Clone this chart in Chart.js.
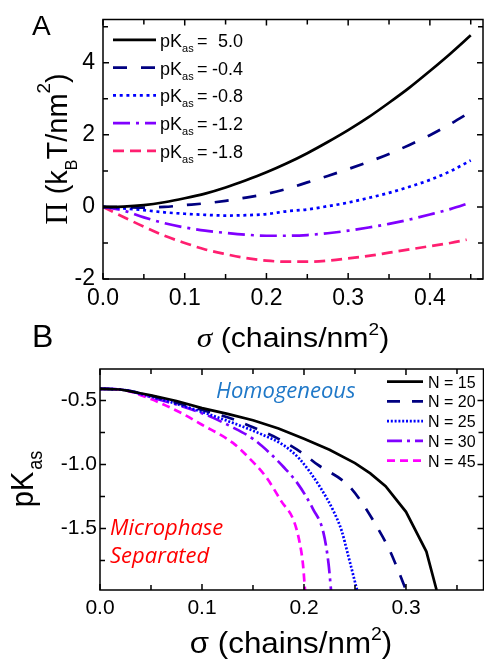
<!DOCTYPE html>
<html>
<head>
<meta charset="utf-8">
<script src="https://cdn.jsdelivr.net/npm/chart.js@4.4.1/dist/chart.umd.min.js"></script>
<style>
html,body{margin:0;padding:0;background:#fff;}
body{width:484px;height:660px;position:relative;overflow:hidden;}
.w{position:absolute;left:0;width:484px;}
#wa{top:0;height:360px;}
#wb{top:300px;height:360px;}
</style>
</head>
<body>
<div class="w" id="wa"><canvas id="ca"></canvas></div>
<div class="w" id="wb"><canvas id="cb"></canvas></div>
<script>
// ================= Panel A : Pi vs sigma =================
const sigmaA   = [0, 0.025, 0.05, 0.075, 0.1, 0.125, 0.15, 0.175, 0.2, 0.225, 0.25, 0.275, 0.3, 0.325, 0.35, 0.375, 0.4, 0.425, 0.45];
const sigmaA18 = [0, 0.025, 0.05, 0.075, 0.1, 0.125, 0.15, 0.175, 0.2, 0.225, 0.25, 0.275, 0.3, 0.325, 0.35, 0.375, 0.4, 0.425, 0.445];
const pKasA    = [5.0, -0.4, -0.8, -1.2, -1.8];
const piA_p50  = [0, 0.01, 0.05, 0.13, 0.24, 0.37, 0.54, 0.74, 0.96, 1.21, 1.49, 1.80, 2.13, 2.49, 2.89, 3.31, 3.77, 4.25, 4.76];
const piA_m04  = [0, -0.01, -0.02, 0.0, 0.05, 0.10, 0.17, 0.26, 0.36, 0.50, 0.68, 0.86, 1.05, 1.25, 1.47, 1.72, 1.99, 2.30, 2.64];
const piA_m08  = [0, -0.04, -0.09, -0.15, -0.19, -0.22, -0.24, -0.23, -0.20, -0.12, -0.07, 0.02, 0.12, 0.25, 0.39, 0.56, 0.75, 0.99, 1.29];
const piA_m12  = [0, -0.10, -0.29, -0.45, -0.57, -0.66, -0.72, -0.77, -0.80, -0.80, -0.78, -0.73, -0.66, -0.57, -0.47, -0.35, -0.21, -0.06, 0.12];
const piA_m18  = [0, -0.28, -0.55, -0.80, -1.00, -1.18, -1.31, -1.42, -1.49, -1.52, -1.52, -1.49, -1.43, -1.36, -1.27, -1.18, -1.09, -1.00, -0.91];
const xTicksA  = [0, 0.1, 0.2, 0.3, 0.4];
const xMinorA  = [0.05, 0.15, 0.25, 0.35, 0.45];
const yTicksA  = [-2, 0, 2, 4];
const yMinorA  = [-1, 1, 3, 5];

// ================= Panel B : pKas vs sigma (phase boundary) =================
const NB        = [15, 20, 25, 30, 45];
const sigmaB15  = [0, 0.02, 0.05, 0.075, 0.1, 0.125, 0.15, 0.175, 0.2, 0.225, 0.25, 0.265, 0.28, 0.30, 0.32, 0.33];
const pKB15     = [-0.41, -0.415, -0.46, -0.505, -0.56, -0.605, -0.655, -0.72, -0.80, -0.885, -0.99, -1.07, -1.17, -1.37, -1.68, -1.98];
const sigmaB20  = [0, 0.02, 0.05, 0.1, 0.13, 0.15, 0.175, 0.2, 0.213, 0.243, 0.257, 0.271, 0.284, 0.293, 0.300];
const pKB20     = [-0.41, -0.415, -0.465, -0.575, -0.645, -0.71, -0.80, -0.92, -1.00, -1.16, -1.30, -1.48, -1.67, -1.84, -1.98];
const sigmaB25  = [0, 0.02, 0.05, 0.1, 0.13, 0.16, 0.18, 0.196, 0.216, 0.229, 0.237, 0.243, 0.252];
const pKB25     = [-0.41, -0.415, -0.47, -0.59, -0.675, -0.77, -0.85, -0.96, -1.18, -1.365, -1.52, -1.70, -1.98];
const sigmaB30  = [0, 0.02, 0.05, 0.1, 0.13, 0.15, 0.165, 0.18, 0.193, 0.209, 0.219, 0.224, 0.2265];
const pKB30     = [-0.41, -0.415, -0.475, -0.60, -0.71, -0.80, -0.90, -1.02, -1.14, -1.35, -1.53, -1.77, -1.98];
const sigmaB45  = [0, 0.02, 0.05, 0.08, 0.1, 0.13, 0.145, 0.163, 0.178, 0.19, 0.196, 0.199, 0.201];
const pKB45     = [-0.41, -0.415, -0.49, -0.60, -0.69, -0.83, -0.94, -1.10, -1.29, -1.44, -1.62, -1.78, -1.98];
const xTicksB   = [0, 0.1, 0.2, 0.3];
const xMinorB   = [0.05, 0.15, 0.25, 0.35];
const yTicksB   = [-1.5, -1.0, -0.5];
const yMinorB   = [-1.75, -1.25, -0.75];

// ================= helpers =================
const SANS = '"Liberation Sans", Arial, sans-serif';
const SERIF = '"Liberation Serif", "Times New Roman", serif';
const pts = (xs, ys) => xs.map((x, i) => ({x: x, y: ys[i]}));

function drawRuns(ctx, runs, x, y, o) {
  o = o || {};
  ctx.save();
  ctx.translate(x, y);
  if (o.rot) ctx.rotate(o.rot);
  ctx.scale(o.sx || 1, o.sy || 1);
  let total = 0;
  runs.forEach(r => { ctx.font = r.font; r.w = ctx.measureText(r.text).width + (r.gap || 0); total += r.w; });
  let cx = o.align === 'left' ? 0 : -total / 2;
  ctx.textBaseline = 'alphabetic';
  ctx.textAlign = 'left';
  runs.forEach(r => {
    ctx.font = r.font; ctx.fillStyle = r.color || '#000';
    ctx.fillText(r.text, cx, r.dy || 0);
    cx += r.w;
  });
  ctx.restore();
}

const frameTicks = {
  id: 'frameTicks',
  afterDatasetsDraw(chart, args, opts) {
    const {ctx, chartArea: a, scales: {x, y}} = chart;
    ctx.save();
    ctx.strokeStyle = '#000';
    ctx.lineWidth = 1.5;
    ctx.setLineDash([]);
    ctx.strokeRect(a.left, a.top, a.right - a.left, a.bottom - a.top);
    ctx.beginPath();
    const xt = (vals, len) => vals.forEach(v => {
      const p = x.getPixelForValue(v);
      if (p < a.left - 0.5 || p > a.right + 0.5) return;
      ctx.moveTo(p, a.bottom); ctx.lineTo(p, a.bottom - len);
      ctx.moveTo(p, a.top); ctx.lineTo(p, a.top + len);
    });
    const yt = (vals, len) => vals.forEach(v => {
      const p = y.getPixelForValue(v);
      if (p < a.top - 0.5 || p > a.bottom + 0.5) return;
      ctx.moveTo(a.left, p); ctx.lineTo(a.left + len, p);
      ctx.moveTo(a.right, p); ctx.lineTo(a.right - len, p);
    });
    xt(x.ticks.map(t => t.value), 6); xt(opts.xMinor, 5);
    yt(y.ticks.map(t => t.value), 6); yt(opts.yMinor, 5);
    ctx.stroke();
    ctx.restore();
  }
};

const decorA = {
  id: 'decorA',
  afterDraw(chart) {
    const ctx = chart.ctx, a = chart.chartArea;
    // panel letters
    drawRuns(ctx, [{text: 'A', font: '28px ' + SANS}], 32, 35, {align: 'left'});
    drawRuns(ctx, [{text: 'B', font: '32px ' + SANS}], 32, 347, {align: 'left'});
    // x title
    drawRuns(ctx, [
      {text: 'σ', font: 'italic 28px ' + SERIF},
      {text: ' (chains/nm', font: '27px ' + SANS},
      {text: '2', font: '17px ' + SANS, dy: -12},
      {text: ')', font: '27px ' + SANS}
    ], (a.left + a.right) / 2 + 0, 347, {sx: 1.12});
    // y title
    drawRuns(ctx, [
      {text: 'Π', font: '31px ' + SERIF},
      {text: ' (k', font: '29px ' + SANS},
      {text: 'B', font: '16px ' + SANS, dy: 10},
      {text: 'T/nm', font: '29px ' + SANS},
      {text: '2', font: '19px ' + SANS, dy: -17},
      {text: ')', font: '29px ' + SANS}
    ], 67, 149, {rot: -Math.PI / 2});
    // legend
    const x0 = a.left + 10, x1 = a.left + 53, tx = a.left + 57, vx = a.left + 140;
    chart.data.datasets.forEach((ds, i) => {
      const yy = a.top + 20.3 + i * 27.75;
      ctx.save();
      ctx.strokeStyle = ds.borderColor; ctx.lineWidth = ds.borderWidth;
      ctx.setLineDash(ds.borderDash || []);
      ctx.beginPath(); ctx.moveTo(x0, yy); ctx.lineTo(x1, yy); ctx.stroke();
      ctx.setLineDash([]);
      ctx.fillStyle = '#000'; ctx.textBaseline = 'alphabetic'; ctx.textAlign = 'left';
      ctx.font = '18px ' + SANS;
      ctx.fillText('pK', tx, yy + 7);
      const w = ctx.measureText('pK').width;
      ctx.font = '11px ' + SANS;
      ctx.fillText('as', tx + w, yy + 12);
      ctx.font = '18px ' + SANS;
      ctx.fillText('=', tx + 37, yy + 7);
      ctx.textAlign = 'right';
      ctx.fillText(pKasA[i].toFixed(1), vx, yy + 7);
      ctx.restore();
    });
  }
};

const decorB = {
  id: 'decorB',
  afterDraw(chart) {
    const ctx = chart.ctx, a = chart.chartArea;
    // x title
    drawRuns(ctx, [
      {text: 'σ', font: '29px ' + SANS},
      {text: ' (chains/nm', font: '29px ' + SANS},
      {text: '2', font: '18px ' + SANS, dy: -13},
      {text: ')', font: '29px ' + SANS}
    ], 291, 353, {sx: 1.08});
    // y title
    drawRuns(ctx, [
      {text: 'pK', font: '29px ' + SANS, gap: 2},
      {text: 'as', font: '18px ' + SANS, dy: 8}
    ], 33, 179, {rot: -Math.PI / 2, sy: 1.1});
    // annotations
    drawRuns(ctx, [{text: 'Homogeneous', font: 'italic 22px "Open Sans", ' + SANS, color: '#1f78c8'}], 216, 98, {align: 'left'});
    drawRuns(ctx, [{text: 'Microphase', font: 'italic 22px "Open Sans", ' + SANS, color: '#ff0000'}], 110, 235, {align: 'left'});
    drawRuns(ctx, [{text: 'Separated', font: 'italic 22px "Open Sans", ' + SANS, color: '#ff0000'}], 110, 263, {align: 'left'});
    // legend
    const x0 = 387, x1 = 423, tx = 428;
    chart.data.datasets.forEach((ds, i) => {
      const yy = a.top + 12.7 + i * 19.75;
      ctx.save();
      ctx.strokeStyle = ds.borderColor; ctx.lineWidth = ds.borderWidth;
      ctx.setLineDash(ds.borderDash || []);
      ctx.beginPath(); ctx.moveTo(x0, yy); ctx.lineTo(x1, yy); ctx.stroke();
      ctx.setLineDash([]);
      ctx.fillStyle = '#000'; ctx.textBaseline = 'alphabetic'; ctx.textAlign = 'left';
      ctx.font = '16px ' + SANS;
      ctx.fillText('N = ' + NB[i], tx, yy + 6);
      ctx.restore();
    });
  }
};

function axis(min, max, ticks, fmt, fitProp, fitVal, size, pad) {
  return {
    type: 'linear', min: min, max: max,
    grid: {display: false, drawTicks: false, tickLength: 0},
    border: {display: false},
    afterBuildTicks: s => { s.ticks = ticks.map(v => ({value: v})); },
    afterFit: s => { s[fitProp] = fitVal; },
    ticks: {
      color: '#000', padding: pad, autoSkip: false, maxRotation: 0, minRotation: 0,
      font: {family: SANS, size: size, lineHeight: 1},
      callback: fmt
    }
  };
}

Chart.defaults.animation = false;

const lineDs = (label, data, color, dash, extra) => Object.assign({
  label: label, data: data, borderColor: color, backgroundColor: color,
  borderWidth: 2.7, borderDash: dash, pointRadius: 0, fill: false,
  borderCapStyle: 'butt', cubicInterpolationMode: 'monotone'
}, extra || {});

new Chart(document.getElementById('ca'), {
  type: 'line',
  data: {
    datasets: [
      lineDs('pKas = ' + pKasA[0].toFixed(1), pts(sigmaA, piA_p50), '#000000', []),
      lineDs('pKas = ' + pKasA[1].toFixed(1), pts(sigmaA, piA_m04), '#000080', [14, 14]),
      lineDs('pKas = ' + pKasA[2].toFixed(1), pts(sigmaA, piA_m08), '#0000ff', [3, 3.7]),
      lineDs('pKas = ' + pKasA[3].toFixed(1), pts(sigmaA, piA_m12), '#8000ff', [17, 6, 3, 6]),
      lineDs('pKas = ' + pKasA[4].toFixed(1), pts(sigmaA18, piA_m18), '#ff1f70', [11, 6])
    ]
  },
  options: {
    responsive: true, maintainAspectRatio: false, devicePixelRatio: 1,
    layout: {padding: {top: 13, right: 1, left: 0, bottom: 0}},
    plugins: {legend: {display: false}, tooltip: {enabled: false},
      frameTicks: {xMinor: xMinorA, yMinor: yMinorA}},
    scales: {
      x: axis(0, 0.465, xTicksA, v => Number(v).toFixed(1), 'height', 81, 23, 8),
      y: axis(-2, 5.2, yTicksA, v => String(v), 'width', 103, 23, 8)
    }
  },
  plugins: [frameTicks, decorA]
});

new Chart(document.getElementById('cb'), {
  type: 'line',
  data: {
    datasets: [
      lineDs('N = ' + NB[0], pts(sigmaB15, pKB15), '#000000', [], {cubicInterpolationMode: 'default', tension: 0}),
      lineDs('N = ' + NB[1], pts(sigmaB20, pKB20), '#000080', [13, 12]),
      lineDs('N = ' + NB[2], pts(sigmaB25, pKB25), '#0000ff', [2, 1.8]),
      lineDs('N = ' + NB[3], pts(sigmaB30, pKB30), '#8000ff', [15, 5, 3, 5]),
      lineDs('N = ' + NB[4], pts(sigmaB45, pKB45), '#ff00ff', [8, 5])
    ]
  },
  options: {
    responsive: true, maintainAspectRatio: false, devicePixelRatio: 1,
    layout: {padding: {top: 69, right: 0.5, left: 0, bottom: 0}},
    plugins: {legend: {display: false}, tooltip: {enabled: false},
      frameTicks: {xMinor: xMinorB, yMinor: yMinorB}},
    scales: {
      x: axis(0, 0.376, xTicksB, v => Number(v).toFixed(1), 'height', 70, 21, 8),
      y: axis(-1.98, -0.255, yTicksB, v => Number(v).toFixed(1), 'width', 100, 21, 3)
    }
  },
  plugins: [frameTicks, decorB]
});
</script>
</body>
</html>
